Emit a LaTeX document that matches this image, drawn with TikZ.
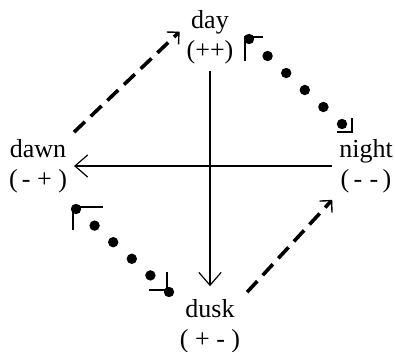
\documentclass[tikz,border=0pt]{standalone}
\usepackage{fontspec}
\setmainfont{Liberation Serif}
\usetikzlibrary{arrows.meta, calc}

\begin{document}
\begin{tikzpicture}[x=0.5pt, y=-0.5pt,
    lbl/.style={align=center, font=\fontsize{13}{15}\selectfont},
    axis/.style={line width=0.6pt, -{Straight Barb[angle=82:8.5pt]}},
    dasharrow/.style={line width=1.8pt, dash pattern=on 7.5pt off 4pt,
        -{Straight Barb[angle=90:6pt, line width=0.7pt]}},
    cornerline/.style={line width=0.7pt}]
    \useasboundingbox (0,0) rectangle (395,352);

    % Labels
    \node[lbl] (day)   at (210,37)  {day\\(++)};
    \node[lbl] (dawn)  at (38,166)  {dawn\\(\,- + )};
    \node[lbl] (night) at (366,166) {night\\(\,-\;-\,)};
    \node[lbl] (dusk)  at (210,326) {dusk\\( + - )};

    % Axes
    \draw[axis] (night.west) -- (dawn.east);
    \draw[axis, shorten >=3pt] (day.south) -- (dusk.north);

    % Dashed arrows
    \draw[dasharrow] (dawn.north east) -- (day.170);
    \draw[dasharrow] (dusk.north east) -- (night.south west);

    % Dotted connectors
    \coordinate (dn1) at (249,39);
    \coordinate (dn2) at (342,124);
    \coordinate (dd1) at (76,209);
    \coordinate (dd2) at (169,292);
    \foreach \i in {0,...,5} {
        \fill ($(dn1)!\i/5!(dn2)$) circle (2.6pt);
        \fill ($(dd1)!\i/5!(dd2)$) circle (2.6pt);
    }
    \draw[cornerline] ($(dn1)+(14,-2)$) -| ($(dn1)+(-4,22)$);
    \draw[cornerline] ($(dn2)+(10,-6)$) |- ($(dn2)+(-5,8)$);
    \draw[cornerline] ($(dd1)+(27,-2)$) -| ($(dd1)+(-3,21)$);
    \draw[cornerline] ($(dd2)+(-2,-20)$) |- ($(dd2)+(-20,-2)$);
\end{tikzpicture}
\end{document}
